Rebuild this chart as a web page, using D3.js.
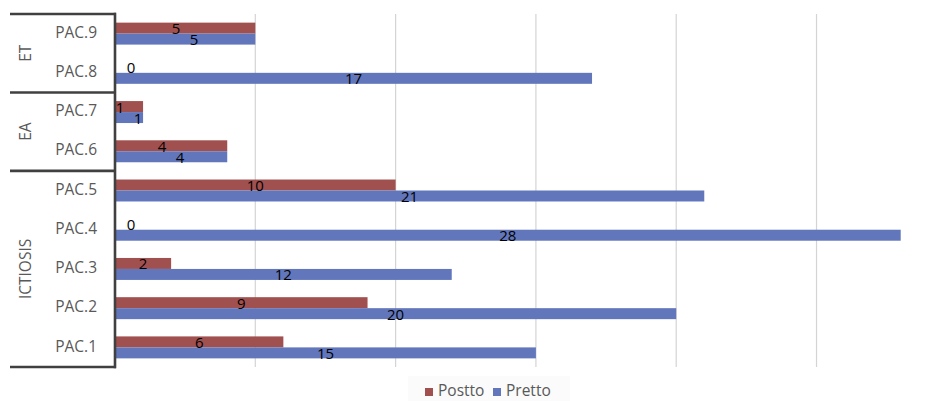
<!DOCTYPE html>
<html>
<head>
<meta charset="utf-8">
<script src="https://cdn.jsdelivr.net/npm/d3@7"></script>
<style>
  body { margin: 0; background: #fff; }
  svg { display: block; font-family: 'Open Sans', sans-serif; }
</style>
</head>
<body>
<script>
const patients = ['PAC.9', 'PAC.8', 'PAC.7', 'PAC.6', 'PAC.5', 'PAC.4', 'PAC.3', 'PAC.2', 'PAC.1']
const postto = [5, 0, 1, 4, 10, 0, 2, 9, 6]
const pretto = [5, 17, 1, 4, 21, 28, 12, 20, 15]
const groups = ['ET', 'EA', 'ICTIOSIS']
const groupStart = ['PAC.9', 'PAC.7', 'PAC.5']
const groupEnd = ['PAC.8', 'PAC.6', 'PAC.1']
const xTicks = [5, 10, 15, 20, 25]

const red = '#a0504f'
const blue = '#6276bc'

const svg = d3.select('body').append('svg').attr('width', 944).attr('height', 401)

const x = d3.scaleLinear().domain([0, 28]).range([115, 900.7])

const y = d3.scaleBand()
    .domain(patients)
    .range([14, 367])
    .paddingInner(0.44)
    .paddingOuter(0.22)

const half = y.bandwidth() / 2

// gridlines
svg.selectAll('line.grid')
    .data(xTicks)
    .enter().append('line')
        .attr('class', 'grid')
        .attr('x1', d => x(d)).attr('x2', d => x(d))
        .attr('y1', 14).attr('y2', 367)
        .attr('stroke', '#d4d4d4')
        .attr('stroke-width', 1.2)

// bars
svg.selectAll('rect.post')
    .data(patients)
    .enter().append('rect')
        .attr('class', 'post')
        .attr('fill', red)
        .attr('x', x(0))
        .attr('y', d => y(d))
        .attr('width', (d, i) => x(postto[i]) - x(0))
        .attr('height', half)

svg.selectAll('rect.pre')
    .data(patients)
    .enter().append('rect')
        .attr('class', 'pre')
        .attr('fill', blue)
        .attr('x', x(0))
        .attr('y', d => y(d) + half)
        .attr('width', (d, i) => x(pretto[i]) - x(0))
        .attr('height', half)

// data labels
function labelX(v, other, dir) {
    if (v === 0) return x(0) + 16
    let cx = (x(0) + x(v)) / 2
    if (v === other) cx += dir * 9
    return cx
}

svg.selectAll('text.lpost')
    .data(patients)
    .enter().append('text')
        .attr('class', 'lpost')
        .attr('x', (d, i) => labelX(postto[i], pretto[i], -1))
        .attr('y', d => y(d) + half / 2 + 2)
        .attr('text-anchor', 'middle')
        .attr('dominant-baseline', 'middle')
        .attr('font-size', 15)
        .attr('fill', '#000')
        .text((d, i) => postto[i])

svg.selectAll('text.lpre')
    .data(patients)
    .enter().append('text')
        .attr('class', 'lpre')
        .attr('x', (d, i) => labelX(pretto[i], postto[i], 1))
        .attr('y', d => y(d) + half * 1.5 + 2)
        .attr('text-anchor', 'middle')
        .attr('dominant-baseline', 'middle')
        .attr('font-size', 15)
        .attr('fill', '#000')
        .text((d, i) => pretto[i])

// category labels
svg.selectAll('text.cat')
    .data(patients)
    .enter().append('text')
        .attr('class', 'cat')
        .attr('x', 97)
        .attr('y', d => y(d) + half)
        .attr('text-anchor', 'end')
        .attr('dominant-baseline', 'middle')
        .attr('font-size', 15.5)
        .attr('fill', '#595959')
        .text(d => d)

// group brackets
const step = y.step()
const bandTop = d => y(d) - (step - y.bandwidth()) / 2
const bandBottom = d => y(d) + y.bandwidth() + (step - y.bandwidth()) / 2

const bounds = [bandTop(groupStart[0])].concat(groupEnd.map(bandBottom))
svg.selectAll('line.sep')
    .data(bounds)
    .enter().append('line')
        .attr('class', 'sep')
        .attr('x1', 10).attr('x2', 116)
        .attr('y1', d => d).attr('y2', d => d)
        .attr('stroke', '#404040')
        .attr('stroke-width', 2.6)

svg.append('line')
    .attr('x1', 115).attr('x2', 115)
    .attr('y1', bounds[0] - 1.3).attr('y2', bounds[bounds.length - 1] + 1.3)
    .attr('stroke', '#404040')
    .attr('stroke-width', 2.6)

svg.selectAll('text.grp')
    .data(groups)
    .enter().append('text')
        .attr('class', 'grp')
        .attr('transform', (d, i) => {
            const cy = (bandTop(groupStart[i]) + bandBottom(groupEnd[i])) / 2
            return 'translate(27,' + cy + ') rotate(-90)'
        })
        .attr('text-anchor', 'middle')
        .attr('dominant-baseline', 'middle')
        .attr('font-size', 15.5)
        .attr('fill', '#595959')
        .text(d => d)

// legend
const legend = svg.append('g')
legend.append('rect')
    .attr('x', 408).attr('y', 376).attr('width', 162).attr('height', 25)
    .attr('fill', '#fbfbfb')

const legendItems = [['Postto', red, 425], ['Pretto', blue, 493]]
legend.selectAll('g.item')
    .data(legendItems)
    .enter().append('g')
        .attr('class', 'item')
        .each(function(d) {
            const g = d3.select(this)
            g.append('rect')
                .attr('x', d[2]).attr('y', 388).attr('width', 8).attr('height', 8)
                .attr('fill', d[1])
            g.append('text')
                .attr('x', d[2] + 13).attr('y', 396)
                .attr('font-size', 15.5)
                .attr('fill', '#595959')
                .text(d[0])
        })
</script>
</body>
</html>
